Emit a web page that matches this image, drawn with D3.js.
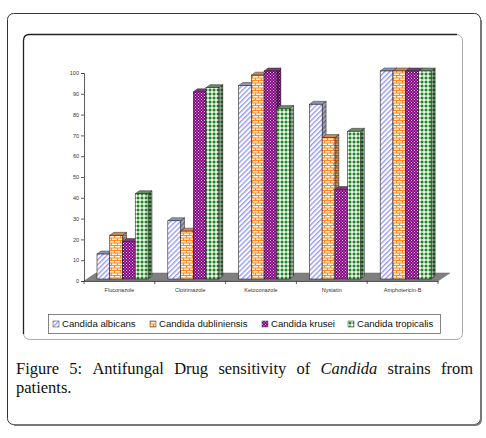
<!DOCTYPE html>
<html><head><meta charset="utf-8">
<script src="https://cdn.jsdelivr.net/npm/d3@7"></script>
<style>html,body{margin:0;padding:0;background:#fff;}svg{display:block;}</style>
</head><body>
<script>
const categories = ["Fluconazole","Clotrimazole","Ketoconazole","Nystatin","Amphotericin-B"];
const seriesNames = ["Candida albicans","Candida dubliniensis","Candida krusei","Candida tropicalis"];
const albicans = [12,28,93,84,100];
const dubliniensis = [21,23,98,68,100];
const krusei = [18,90,100,43,100];
const tropicalis = [41,92,82,71,100];
const yTicks = [0,10,20,30,40,50,60,70,80,90,100];
const captionLine1 = ["Figure","5:","Antifungal","Drug","sensitivity","of","Candida","strains","from"];
const captionLine2 = ["patients."];

const seriesValues = [albicans, dubliniensis, krusei, tropicalis];
const W = 486, H = 438;
const svg = d3.select("body").append("svg").attr("width", W).attr("height", H);
const defs = svg.append("defs");

// patterns
const pA = defs.append("pattern").attr("id","pA").attr("patternUnits","userSpaceOnUse").attr("width",3.5).attr("height",3.5).attr("patternTransform","rotate(45)");
pA.append("rect").attr("width",3.5).attr("height",3.5).attr("fill","#fff");
pA.append("rect").attr("width",1.4).attr("height",3.5).attr("fill","#9a9cf6");

const pD = defs.append("pattern").attr("id","pD").attr("patternUnits","userSpaceOnUse").attr("width",6).attr("height",5);
pD.append("rect").attr("width",6).attr("height",5).attr("fill","#fff3e6");
pD.append("path").attr("d","M0,0.5H6 M0,3H6 M0.5,0.5V3 M3.5,3V5").attr("stroke","#ff8a1f").attr("stroke-width",1.1).attr("fill","none");

const pK = defs.append("pattern").attr("id","pK").attr("patternUnits","userSpaceOnUse").attr("width",3).attr("height",3);
pK.append("rect").attr("width",3).attr("height",3).attr("fill","#860086");
pK.append("rect").attr("x",0).attr("y",0).attr("width",1).attr("height",1).attr("fill","#f4d8f4");
pK.append("rect").attr("x",1.5).attr("y",1.5).attr("width",1).attr("height",1).attr("fill","#f4d8f4");

const pT = defs.append("pattern").attr("id","pT").attr("patternUnits","userSpaceOnUse").attr("width",4).attr("height",4);
pT.append("rect").attr("width",4).attr("height",4).attr("fill","#fff");
pT.append("rect").attr("x",0.5).attr("y",1.2).attr("width",3).attr("height",1.6).attr("fill","#0a8a0a");
pT.append("rect").attr("x",1.2).attr("y",0.5).attr("width",1.6).attr("height",3).attr("fill","#0a8a0a");

const fills = ["url(#pA)","url(#pD)","url(#pK)","url(#pT)"];
const topCols = ["#8d94b8","#c98a55","#7a3a7a","#6a8a6a"];

// frames
svg.append("rect").attr("x",7.5).attr("y",13.5).attr("width",473).attr("height",411).attr("rx",6)
  .attr("fill","none").attr("stroke","#333").attr("stroke-width",1);
svg.append("path").attr("d","M481,20 V419 Q481,425 475,425 H14").attr("fill","none").attr("stroke","#777").attr("stroke-width",2);
svg.append("rect").attr("x",23.5).attr("y",34.5).attr("width",439).attr("height",305).attr("rx",6)
  .attr("fill","none").attr("stroke","#aaa").attr("stroke-width",1);
svg.append("path").attr("d","M23.5,334 V40.5 Q23.5,34.5 29.5,34.5 H457").attr("fill","none").attr("stroke","#222").attr("stroke-width",1.3);

// scales
const x0 = d3.scaleBand().domain(categories).range([84, 438]).paddingInner(0);
const x1 = d3.scaleBand().domain(seriesNames).range([13, 64]);
const y = d3.scaleLinear().domain([0,100]).range([281, 73]);
const ddx = 4, ddy = -3, shift = 2;

// floor
const fl = [[84,281],[96,273],[450,273],[438,281]];
svg.append("polygon").attr("points", fl.map(p=>p.join(",")).join(" ")).attr("fill","#7f7f7f").attr("stroke","#666").attr("stroke-width",0.5);

// bars
const g = svg.append("g");
categories.forEach((c, ci) => {
  seriesNames.forEach((s, si) => {
    const v = seriesValues[si][ci];
    const xa = x0(c) + x1(s), xb = xa + x1.bandwidth();
    const yt = y(v) - shift, yb = y(0) - shift;
    // side
    g.append("polygon").attr("points", [[xb,yt],[xb+ddx,yt+ddy],[xb+ddx,yb+ddy],[xb,yb]].map(p=>p.join(",")).join(" "))
      .attr("fill", fills[si]).attr("stroke","#333").attr("stroke-width",0.5);
    g.append("polygon").attr("points", [[xb,yt],[xb+ddx,yt+ddy],[xb+ddx,yb+ddy],[xb,yb]].map(p=>p.join(",")).join(" "))
      .attr("fill","#000").attr("opacity",0.35);
    // top
    g.append("polygon").attr("points", [[xa,yt],[xa+ddx,yt+ddy],[xb+ddx,yt+ddy],[xb,yt]].map(p=>p.join(",")).join(" "))
      .attr("fill", topCols[si]).attr("stroke","#333").attr("stroke-width",0.5);
    // front
    g.append("rect").attr("x",xa).attr("y",yt).attr("width",xb-xa).attr("height",yb-yt)
      .attr("fill", fills[si]).attr("stroke","#222").attr("stroke-width",0.6);
  });
});

// axes
const yAxis = svg.append("g").attr("transform","translate(84,0)")
  .call(d3.axisLeft(y).tickValues(yTicks).tickSize(3).tickPadding(2));
yAxis.selectAll("text").attr("font-size","5.5px").attr("font-family","Arial, Liberation Sans, sans-serif").attr("fill","#333");
yAxis.selectAll("line,path").attr("stroke","#333").attr("stroke-width",0.8);

const xAxis = svg.append("g").attr("transform","translate(0,281)")
  .call(d3.axisBottom(x0).tickSize(0).tickPadding(7));
xAxis.select(".domain").attr("stroke","#333").attr("stroke-width",0.8);
xAxis.selectAll("text").attr("font-size","5.5px").attr("font-family","Arial, Liberation Sans, sans-serif").attr("fill","#333");
const bounds = categories.map(c => x0(c)).concat([x0.range()[1]]);
svg.append("g").selectAll("line").data(bounds).join("line")
  .attr("x1",d=>d).attr("x2",d=>d).attr("y1",281).attr("y2",284).attr("stroke","#333").attr("stroke-width",0.8);

// legend
svg.append("rect").attr("x",48.5).attr("y",314.5).attr("width",392).attr("height",19).attr("fill","#fff").attr("stroke","#666").attr("stroke-width",0.8);
const legX = [53, 150, 262, 348];
const leg = svg.append("g").selectAll("g").data(seriesNames).join("g")
  .attr("transform",(d,i)=>`translate(${legX[i]},321)`);
leg.append("rect").attr("width",6).attr("height",6).attr("fill",(d,i)=>fills[i]).attr("stroke","#555").attr("stroke-width",0.6);
leg.append("text").attr("x",9).attr("y",6).text(d=>d)
  .attr("font-size","9.6px").attr("font-family","Arial, Liberation Sans, sans-serif").attr("fill","#111");

// caption (justified line 1)
const capFont = "Liberation Serif, Times New Roman, serif";
const cap = svg.append("g").attr("font-family",capFont).attr("font-size","16.5px").attr("fill","#111");
const ws = captionLine1.map(w => {
  const t = cap.append("text").text(w).attr("y",374).attr("font-style", w==="Candida"?"italic":"normal");
  return {t, w: t.node().getComputedTextLength()};
});
const left = 16, right = 473;
const total = d3.sum(ws, d=>d.w);
const gap = (right-left-total)/(ws.length-1);
let cx = left;
ws.forEach(d => { d.t.attr("x", cx); cx += d.w + gap; });
cap.append("text").attr("x",left).attr("y",393).text(captionLine2.join(" "));
</script>
</body></html>
